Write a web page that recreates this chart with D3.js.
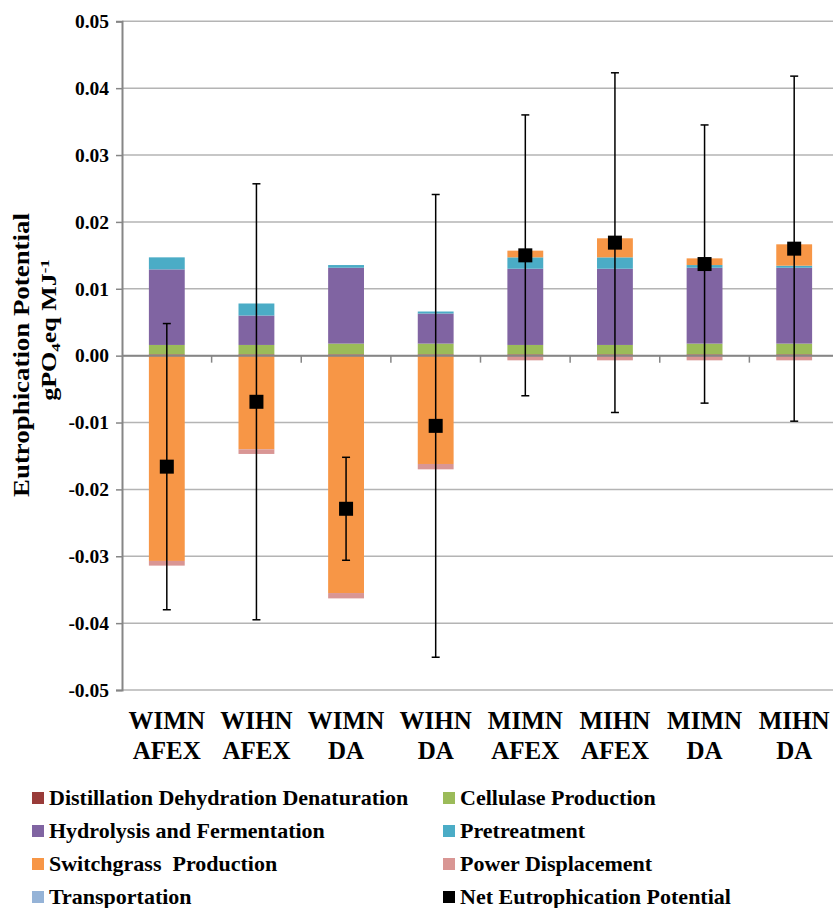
<!DOCTYPE html>
<html>
<head>
<meta charset="utf-8">
<script src="https://cdn.jsdelivr.net/npm/d3@7"></script>
<style>
  body { margin: 0; background: #fff; }
  text { font-family: "Liberation Serif", "Times New Roman", serif; font-weight: bold; }
</style>
</head>
<body>
<div id="chart"></div>
<script>
// categories (two lines each)
var categories = ["WIMN AFEX", "WIHN AFEX", "WIMN DA", "WIHN DA", "MIMN AFEX", "MIHN AFEX", "MIMN DA", "MIHN DA"];

// process contributions, gPO4eq MJ-1
var distillation   = [0.0002, 0.0002, 0.0002, 0.0002, 0.0002, 0.0002, 0.0002, 0.0002];
var cellulase      = [0.0014, 0.0014, 0.0016, 0.0016, 0.0014, 0.0014, 0.0016, 0.0016];
var hydrolysis     = [0.0113, 0.0044, 0.01135, 0.0045, 0.0114, 0.0114, 0.01135, 0.01135];
var pretreatment   = [0.0018, 0.0018, 0.0004, 0.0003, 0.0017, 0.0017, 0.0004, 0.0003];
var switchgrass    = [-0.0307, -0.0140, -0.0355, -0.0162, 0.0010, 0.00285, 0.0010, 0.0032];
var power          = [-0.0007, -0.0007, -0.0008, -0.0008, -0.0007, -0.0007, -0.0007, -0.0007];
var transportation = [0, 0, 0, 0, 0, 0, 0, 0];

// net potential and error bar half widths
var net = [-0.0166, -0.0069, -0.0229, -0.0105, 0.0150, 0.0169, 0.0137, 0.0160];
var err = [0.0214, 0.0326, 0.0077, 0.0346, 0.0210, 0.0254, 0.0208, 0.0258];

var yTicks = [-0.05, -0.04, -0.03, -0.02, -0.01, 0, 0.01, 0.02, 0.03, 0.04, 0.05];

var seriesNames = ["Distillation Dehydration Denaturation", "Cellulase Production",
  "Hydrolysis and Fermentation", "Pretreatment", "Switchgrass  Production",
  "Power Displacement", "Transportation"];
var seriesValues = [distillation, cellulase, hydrolysis, pretreatment, switchgrass, power, transportation];
var colors = ["#993b39", "#9bbb59", "#8064a2", "#4bacc6", "#f79646", "#d99694", "#95b3d7"];

var width = 833, height = 908;
var plotLeft = 122, plotRight = 839, plotTop = 21.3, plotBottom = 690;

var svg = d3.select("#chart").append("svg")
  .attr("width", width)
  .attr("height", height);

var x = d3.scaleBand()
  .domain(categories)
  .range([plotLeft, plotRight])
  .paddingInner(0.6)
  .paddingOuter(0.3);

var y = d3.scaleLinear()
  .domain([-0.05, 0.05])
  .range([plotBottom, plotTop]);

// gridlines
svg.append("g")
  .selectAll("line")
  .data(yTicks)
  .enter()
  .append("line")
  .attr("x1", plotLeft)
  .attr("x2", plotRight)
  .attr("y1", function (d) { return y(d); })
  .attr("y2", function (d) { return y(d); })
  .attr("stroke", "#b4b4b4")
  .attr("stroke-width", 1.5);

// y axis
var yAxis = svg.append("g")
  .attr("transform", "translate(" + plotLeft + ",0)")
  .call(d3.axisLeft(y)
    .tickValues(yTicks)
    .tickSize(6)
    .tickPadding(7)
    .tickFormat(function (d) { return d3.format(".2f")(d).replace("\u2212", "-"); }));
yAxis.select(".domain").attr("stroke", "#868686").attr("stroke-width", 2);
yAxis.selectAll(".tick line").attr("stroke", "#868686").attr("stroke-width", 1.5);
yAxis.selectAll(".tick text")
  .attr("fill", "#000")
  .style("font-size", "19.5px")
  .style("font-family", "'Liberation Serif', serif")
  .style("font-weight", "bold");

// stacked bars
var rows = categories.map(function (c, i) {
  var r = { cat: c };
  seriesNames.forEach(function (s, j) { r[s] = seriesValues[j][i]; });
  return r;
});
var stack = d3.stack()
  .keys(seriesNames)
  .offset(d3.stackOffsetDiverging);
var layers = stack(rows);

svg.append("g")
  .selectAll("g")
  .data(layers)
  .enter()
  .append("g")
  .attr("fill", function (d, i) { return colors[i]; })
  .selectAll("rect")
  .data(function (d) { return d; })
  .enter()
  .append("rect")
  .attr("x", function (d) { return x(d.data.cat); })
  .attr("width", x.bandwidth())
  .attr("y", function (d) { return y(Math.max(d[0], d[1])); })
  .attr("height", function (d) { return Math.abs(y(d[0]) - y(d[1])); });

// category axis at zero
var bounds = categories.map(function (c) { return x(c) - x.step() * 0.3; });
bounds.push(plotRight);
svg.append("line")
  .attr("x1", plotLeft).attr("x2", plotRight)
  .attr("y1", y(0)).attr("y2", y(0))
  .attr("stroke", "#868686")
  .attr("stroke-width", 2);
svg.append("g")
  .selectAll("line")
  .data(bounds.slice(1))
  .enter()
  .append("line")
  .attr("x1", function (d) { return d; })
  .attr("x2", function (d) { return d; })
  .attr("y1", y(0))
  .attr("y2", y(0) + 7)
  .attr("stroke", "#868686")
  .attr("stroke-width", 1.5);

// error bars
var cx = function (i) { return x(categories[i]) + x.bandwidth() / 2; };
var eb = svg.append("g").attr("stroke", "#000").attr("stroke-width", 1.5);
net.forEach(function (v, i) {
  eb.append("line")
    .attr("x1", cx(i)).attr("x2", cx(i))
    .attr("y1", y(v + err[i])).attr("y2", y(v - err[i]));
  [v + err[i], v - err[i]].forEach(function (e) {
    eb.append("line")
      .attr("x1", cx(i) - 4).attr("x2", cx(i) + 4)
      .attr("y1", y(e)).attr("y2", y(e));
  });
});

// net markers
svg.append("g")
  .selectAll("rect")
  .data(net)
  .enter()
  .append("rect")
  .attr("x", function (d, i) { return cx(i) - 7; })
  .attr("y", function (d) { return y(d) - 7; })
  .attr("width", 14)
  .attr("height", 14)
  .attr("fill", "#000");

// category labels
var labels = svg.append("g")
  .selectAll("text")
  .data(categories)
  .enter()
  .append("text")
  .attr("text-anchor", "middle")
  .style("font-size", "25px");
labels.append("tspan")
  .attr("x", function (d) { return x(d) + x.bandwidth() / 2; })
  .attr("y", 729)
  .text(function (d) { return d.split(" ")[0]; });
labels.append("tspan")
  .attr("x", function (d) { return x(d) + x.bandwidth() / 2; })
  .attr("y", 759)
  .text(function (d) { return d.split(" ")[1]; });

// y axis title
svg.append("text")
  .attr("transform", "translate(29,355) rotate(-90) scale(1.12,1)")
  .attr("text-anchor", "middle")
  .style("font-size", "24px")
  .text("Eutrophication Potential");
var sub = svg.append("text")
  .attr("transform", "translate(56,330) rotate(-90) scale(1.3,1)")
  .attr("text-anchor", "middle")
  .style("font-size", "20px");
sub.append("tspan").text("gPO");
sub.append("tspan").attr("dy", 4).style("font-size", "13px").text("4");
sub.append("tspan").attr("dy", -4).text("eq MJ");
sub.append("tspan").attr("dy", -7).style("font-size", "13px").text("-1");

// legend
var legendNames = seriesNames.concat(["Net Eutrophication Potential"]);
var legendColors = colors.concat(["#000"]);
var legend = svg.selectAll(".legend")
  .data(legendNames)
  .enter()
  .append("g")
  .attr("class", "legend")
  .attr("transform", function (d, i) {
    var col = i % 2, row = Math.floor(i / 2);
    return "translate(" + (col === 0 ? 32 : 443) + "," + (798 + row * 33) + ")";
  });
legend.append("rect")
  .attr("x", 0)
  .attr("y", -6)
  .attr("width", 12)
  .attr("height", 12)
  .attr("fill", function (d, i) { return legendColors[i]; });
legend.append("text")
  .attr("x", 17)
  .attr("y", 7)
  .style("font-size", "22px")
  .style("white-space", "pre")
  .text(function (d) { return d; });
</script>
</body>
</html>
